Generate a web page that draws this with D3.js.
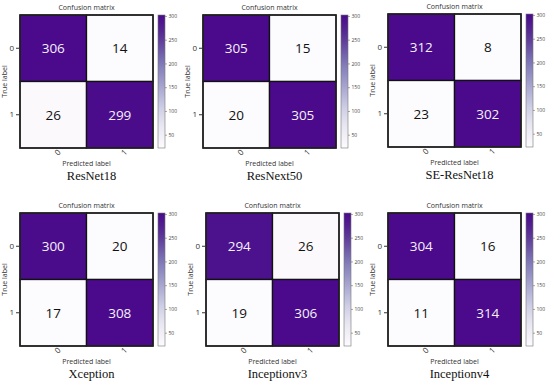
<script src="https://d3js.org/d3.v7.min.js"></script>
<style>
  body { margin: 0; background: #fff; }
  svg { display: block; }
</style>
<svg id="chart" width="550" height="383"></svg>
<script>
  // model names and their 2x2 confusion matrices (rows: true 0/1, cols: predicted 0/1)
  const models = ["ResNet18", "ResNext50", "SE-ResNet18", "Xception", "Inceptionv3", "Inceptionv4"];
  const matrices = [
    [[306, 14], [26, 299]],
    [[305, 15], [20, 305]],
    [[312, 8], [23, 302]],
    [[300, 20], [17, 308]],
    [[294, 26], [19, 306]],
    [[304, 16], [11, 314]]
  ];
  const classes = ["0", "1"];
  const barTicks = [50, 100, 150, 200, 250, 300];
  const barRange = [22, 302];   // colour bar extent

  // panel placement (matrix top-left corner)
  const panelX = [20, 203, 388, 20, 206, 388];
  const panelY = [15, 15, 14, 213, 213, 213];
  const size = 133;

  // Purples ramp, top end a bit brighter like the picture
  const ramp = d3.schemePurples[9].slice();
  ramp[8] = "#4a0a8b";
  const purples = d3.interpolateRgbBasis(ramp);
  const color = d3.scaleSequential(purples).domain(barRange).clamp(true);

  const svg = d3.select("#chart");
  const sans = "'Open Sans', 'DejaVu Sans', sans-serif";
  const defs = svg.append("defs");

  const grad = defs.append("linearGradient")
    .attr("id", "grad").attr("x1", 0).attr("y1", 1).attr("x2", 0).attr("y2", 0);
  d3.range(0, 1.001, 0.05).forEach(t => {
    grad.append("stop").attr("offset", t)
      .attr("stop-color", color(barRange[0] + t * (barRange[1] - barRange[0])));
  });

  models.forEach((name, i) => {
    const m = matrices[i];

    const g = svg.append("g").attr("transform", `translate(${panelX[i]},${panelY[i]})`);

    const x = d3.scaleBand().domain(classes).range([0, size]);
    const y = d3.scaleBand().domain(classes).range([0, size]);

    const cells = [];
    m.forEach((row, r) => row.forEach((v, c) => cells.push({r: classes[r], c: classes[c], v})));

    g.selectAll("rect.cell")
      .data(cells)
      .enter().append("rect")
      .attr("class", "cell")
      .attr("x", d => x(d.c))
      .attr("y", d => y(d.r))
      .attr("width", x.bandwidth())
      .attr("height", y.bandwidth())
      .attr("fill", d => color(d.v))
      .attr("stroke", "#111")
      .attr("stroke-width", 1.3);

    g.append("rect")
      .attr("width", size).attr("height", size)
      .attr("fill", "none").attr("stroke", "#222").attr("stroke-width", 1.5);

    g.selectAll("text.val")
      .data(cells)
      .enter().append("text")
      .attr("class", "val")
      .attr("x", d => x(d.c) + x.bandwidth() / 2)
      .attr("y", d => y(d.r) + y.bandwidth() / 2)
      .attr("dy", "0.36em")
      .attr("text-anchor", "middle")
      .style("font-family", sans)
      .style("font-size", "13.5px")
      .attr("fill", d => d.v > 160 ? "#f4f0fa" : "#111")
      .text(d => d.v);

    // y axis
    const ya = g.append("g")
      .call(d3.axisLeft(y).tickSize(4).tickPadding(2));
    ya.select(".domain").remove();
    ya.selectAll("line").attr("stroke", "#333");
    ya.selectAll("text").style("font-family", sans).style("font-size", "8px").attr("fill", "#333");

    // x axis
    const xa = g.append("g")
      .attr("transform", `translate(0,${size})`)
      .call(d3.axisBottom(x).tickSize(0).tickPadding(5));
    xa.select(".domain").remove();
    xa.selectAll("text")
      .style("font-family", sans).style("font-size", "8px").attr("fill", "#333")
      .attr("transform", "rotate(-45)")
      .attr("dy", "0.5em");

    g.append("text")
      .attr("x", size / 2).attr("y", -5)
      .attr("text-anchor", "middle")
      .style("font-family", sans).style("font-size", "7px").attr("fill", "#333")
      .text("Confusion matrix");

    g.append("text")
      .attr("transform", `translate(-13,${size / 2}) rotate(-90)`)
      .attr("text-anchor", "middle")
      .style("font-family", sans).style("font-size", "7px").attr("fill", "#333")
      .text("True label");

    g.append("text")
      .attr("x", size / 2).attr("y", size + 18)
      .attr("text-anchor", "middle")
      .style("font-family", sans).style("font-size", "7px").attr("fill", "#333")
      .text("Predicted label");

    g.append("text")
      .attr("x", size / 2 + 5).attr("y", size + 32)
      .attr("text-anchor", "middle")
      .style("font-family", "'Liberation Serif', 'Times New Roman', serif")
      .style("font-size", "12.5px").attr("fill", "#111")
      .text(name);

    // colorbar
    const cb = g.append("g").attr("transform", `translate(${size + 5},0)`);
    cb.append("rect")
      .attr("width", 7).attr("height", size)
      .attr("fill", "url(#grad)")
      .attr("stroke", "#777").attr("stroke-width", 0.6);

    const cbScale = d3.scaleLinear().domain(barRange).range([size, 0]);
    const cba = cb.append("g")
      .attr("transform", "translate(7,0)")
      .call(d3.axisRight(cbScale).tickValues(barTicks).tickSize(2).tickPadding(1.5));
    cba.select(".domain").remove();
    cba.selectAll("line").attr("stroke", "#555").attr("stroke-width", 0.5);
    cba.selectAll("text").style("font-family", sans).style("font-size", "5px").attr("fill", "#444");
  });
</script>
